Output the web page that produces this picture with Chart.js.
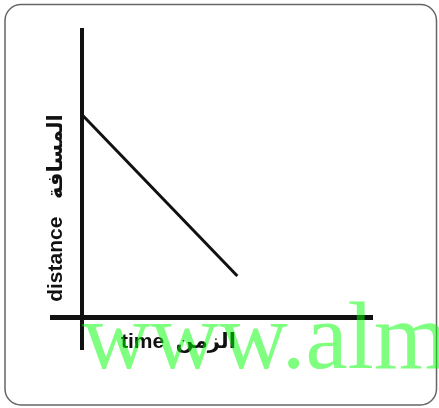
<!DOCTYPE html>
<html>
<head>
<meta charset="utf-8">
<script src="https://cdn.jsdelivr.net/npm/chart.js@4/dist/chart.umd.min.js"></script>
<style>
  html, body { margin: 0; padding: 0; background: #fff; }
  canvas { display: block; }
</style>
</head>
<body>
<canvas id="motionChart" width="439" height="408"></canvas>
<script>
const timeValues = [0, 4.8];
const distanceValues = [6.3, 1.3];
const xTitle = 'time  الزمن';
const yTitle = 'distance   المسافة';
const watermark = 'www.alm';

const decor = {
    id: 'decor',
    beforeDraw(chart) {
        const c = chart.ctx;
        c.save();
        c.fillStyle = '#fff';
        c.fillRect(0, 0, chart.width, chart.height);
        c.strokeStyle = '#666';
        c.lineWidth = 1.5;
        c.beginPath();
        c.roundRect(5, 4.5, 431.5, 400.5, 16);
        c.stroke();
        c.restore();
    },
    afterDraw(chart) {
        const c = chart.ctx;
        const x0 = chart.scales.x.getPixelForValue(0);
        const y0 = chart.scales.y.getPixelForValue(0);
        c.save();
        c.fillStyle = '#111';
        c.font = 'bold 21px "Liberation Sans", "DejaVu Sans", sans-serif';
        c.textBaseline = 'middle';
        c.textAlign = 'left';
        c.fillText(xTitle, 121, y0 + 24);
        c.translate(x0 - 26, 208);
        c.rotate(-Math.PI / 2);
        c.textAlign = 'center';
        c.fillText(yTitle, 0, 0);
        c.restore();

        c.save();
        c.fillStyle = 'rgba(0,255,0,0.5)';
        c.font = '95px "Liberation Serif", serif';
        c.textBaseline = 'alphabetic';
        c.fillText(watermark, 82, 368);
        c.restore();
    }
};

const axisLine = ctx => ctx.tick && ctx.tick.value === 0 ? '#111' : 'rgba(0,0,0,0)';

new Chart(document.getElementById('motionChart').getContext('2d'), {
    type: 'scatter',
    data: {
        datasets: [{
            data: timeValues.map((t, i) => ({ x: t, y: distanceValues[i] })),
            showLine: true,
            borderColor: '#111',
            borderWidth: 3,
            pointRadius: 0
        }]
    },
    options: {
        responsive: false,
        animation: false,
        layout: { padding: { left: 50, top: 28, right: 66, bottom: 58 } },
        plugins: { legend: { display: false }, tooltip: { enabled: false } },
        scales: {
            x: {
                min: -1, max: 9,
                ticks: { display: false, stepSize: 1 },
                border: { display: false },
                grid: { drawTicks: false, color: axisLine, lineWidth: 4 }
            },
            y: {
                min: -1, max: 9,
                ticks: { display: false, stepSize: 1 },
                border: { display: false },
                grid: { drawTicks: false, color: axisLine, lineWidth: 5 }
            }
        }
    },
    plugins: [decor]
});
</script>
</body>
</html>
